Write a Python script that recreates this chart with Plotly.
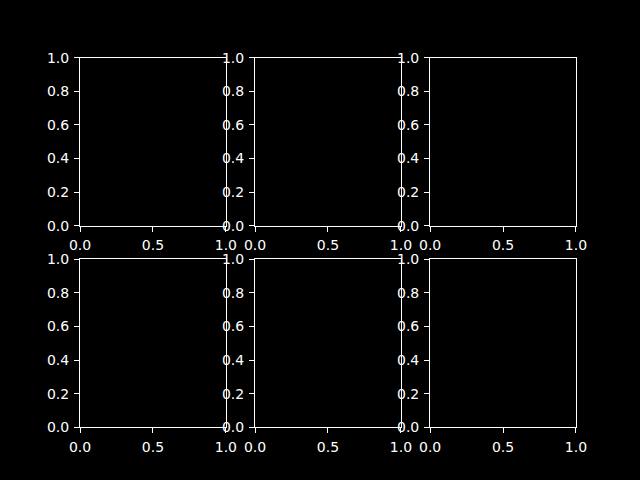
import plotly.graph_objects as go

# Tick values and labels (axes are empty, range 0..1)
x_tickvals = [0.0, 0.5, 1.0]
x_ticktext = ["0.0", "0.5", "1.0"]
y_tickvals = [0.0, 0.2, 0.4, 0.6, 0.8, 1.0]
y_ticktext = ["0.0", "0.2", "0.4", "0.6", "0.8", "1.0"]
axis_range = [0.0, 1.0]

n_rows, n_cols = 2, 3
x_domains = [[0.125, 0.35294], [0.39853, 0.62647], [0.67206, 0.9]]
y_domains = [[0.53, 0.88], [0.11, 0.46]]  # top row, bottom row

fig = go.Figure()
layout = dict(
    width=640, height=480,
    margin=dict(l=0, r=0, t=0, b=0, pad=0),
    paper_bgcolor="black", plot_bgcolor="black",
    font=dict(family="DejaVu Sans", size=14, color="white"),
    showlegend=False,
)
idx = 0
for r in range(n_rows):
    for c in range(n_cols):
        idx += 1
        sfx = "" if idx == 1 else str(idx)
        fig.add_trace(go.Scatter(x=[], y=[], xaxis="x" + sfx, yaxis="y" + sfx))
        common = dict(
            range=axis_range, showgrid=False, zeroline=False, automargin=False,
            showline=True, linecolor="white", linewidth=1.1, mirror=True,
            ticks="outside", ticklen=5, tickwidth=1.1, tickcolor="white",
            tickfont=dict(family="DejaVu Sans", size=14, color="white"),
            tickmode="array", ticklabelstandoff=2,
        )
        layout["xaxis" + sfx] = dict(common, domain=x_domains[c],
                                     anchor="y" + sfx,
                                     tickvals=x_tickvals, ticktext=x_ticktext)
        layout["yaxis" + sfx] = dict(common, domain=y_domains[r],
                                     anchor="x" + sfx,
                                     tickvals=y_tickvals, ticktext=y_ticktext)
fig.update_layout(**layout)
fig.write_html("out.html")
